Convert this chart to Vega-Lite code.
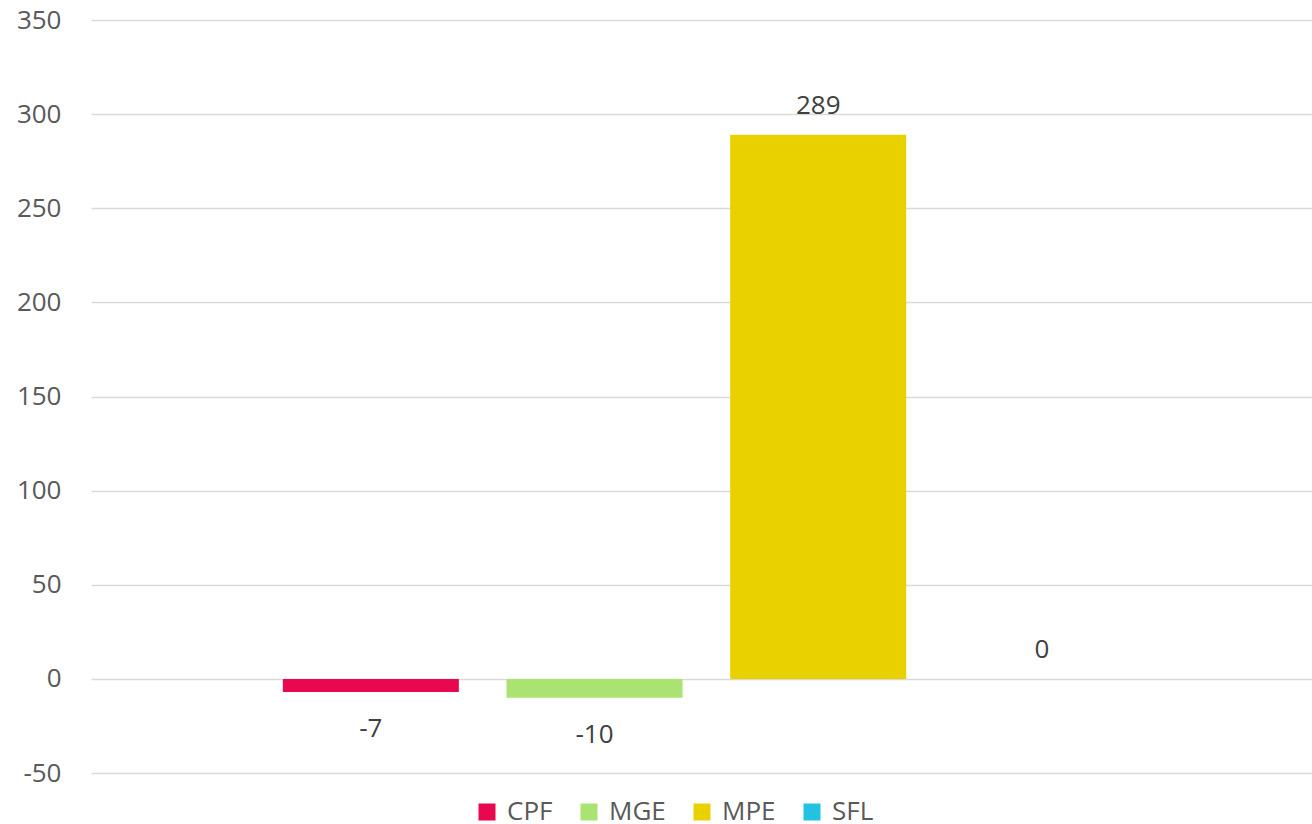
{
  "$schema": "https://vega.github.io/schema/vega-lite/v6.json",
  "autosize": {"type": "none"},
  "width": 1221,
  "height": 753,
  "padding": {"left": 91, "top": 20, "right": 0, "bottom": 51},
  "background": "white",
  "config": {
    "view": {"stroke": null},
    "font": "Open Sans"
  },
  "data": {
    "values": [
      {"series": "CPF", "value": -7},
      {"series": "MGE", "value": -10},
      {"series": "MPE", "value": 289},
      {"series": "SFL", "value": 0}
    ]
  },
  "encoding": {
    "x": {
      "field": "series",
      "type": "nominal",
      "axis": null,
      "scale": {"domain": ["CPF", "MGE", "MPE", "SFL"], "paddingInner": 0.213, "paddingOuter": 0.836, "align": 0.513}
    },
    "y": {
      "field": "value",
      "type": "quantitative",
      "scale": {"domain": [-50, 350], "nice": false, "zero": false},
      "axis": {
        "title": null,
        "values": [-50, 0, 50, 100, 150, 200, 250, 300, 350],
        "labelExpr": "'' + datum.value",
        "domain": false,
        "ticks": false,
        "labelPadding": 30,
        "labelFontSize": 26,
        "labelColor": "#595959",
        "labelFont": "Open Sans",
        "gridColor": "#D9D9D9",
        "gridWidth": 1.5
      }
    }
  },
  "layer": [
    {
      "mark": {"type": "bar", "orient": "vertical"},
      "encoding": {
        "y2": {"datum": 0},
        "color": {
          "field": "series",
          "type": "nominal",
          "scale": {"domain": ["CPF", "MGE", "MPE", "SFL"], "range": ["#E9074F", "#AAE371", "#E9D100", "#22C3E0"]},
          "legend": {
            "title": null,
            "orient": "none",
            "direction": "horizontal",
            "legendX": 383,
            "legendY": 779,
            "padding": 0,
            "symbolType": "square",
            "symbolSize": 289,
            "symbolStrokeWidth": 0,
            "symbolOpacity": 1,
            "labelFontSize": 26,
            "labelColor": "#595959",
            "labelFont": "Open Sans",
            "labelOffset": 7,
            "columnPadding": 23
          }
        }
      }
    },
    {
      "transform": [{"filter": "datum.value >= 0"}],
      "mark": {"type": "text", "dy": -29, "baseline": "middle", "fontSize": 26, "color": "#404040", "font": "Open Sans"},
      "encoding": {"text": {"field": "value", "type": "nominal"}}
    },
    {
      "transform": [{"filter": "datum.value < 0"}],
      "mark": {"type": "text", "dy": 37, "baseline": "middle", "fontSize": 26, "color": "#404040", "font": "Open Sans"},
      "encoding": {"text": {"field": "value", "type": "nominal"}}
    }
  ]
}
